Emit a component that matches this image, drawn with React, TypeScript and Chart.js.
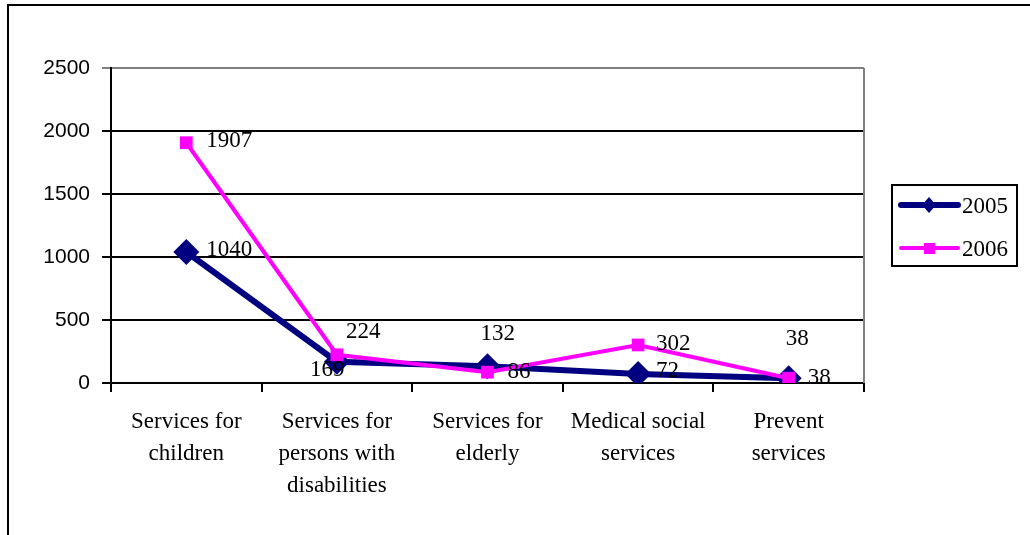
import React, { useEffect, useRef } from "react";
import { Chart, registerables } from "chart.js";

Chart.register(...registerables);

const categories: string[][] = [
  ["Services for", "children"],
  ["Services for", "persons with", "disabilities"],
  ["Services for", "elderly"],
  ["Medical social", "services"],
  ["Prevent", "services"],
];
const series2005: number[] = [1040, 169, 132, 72, 38];
const series2006: number[] = [1907, 224, 86, 302, 38];
const yTicks: number[] = [0, 500, 1000, 1500, 2000, 2500];

const NAVY = "#000080";
const MAGENTA = "#FF00FF";
const SERIF = "'Liberation Serif', 'Times New Roman', serif";
const SANS = "'Liberation Sans', Arial, sans-serif";

// label offsets (pixels, relative to each point) per dataset
const labelOffsets: Record<string, [number, number][]> = {
  "2005": [[20, -2], [-27, 8], [-7, -32], [18, -3], [-3, -39]],
  "2006": [[20, -2], [9, -23], [20, 0], [18, -1], [19, 0]],
};

const framePlugin = {
  id: "frame",
  beforeDraw(chart: any) {
    const { ctx } = chart;
    ctx.save();
    ctx.fillStyle = "#fff";
    ctx.fillRect(0, 0, chart.width, chart.height);
    ctx.strokeStyle = "#000";
    ctx.lineWidth = 2;
    ctx.beginPath();
    ctx.moveTo(8, chart.height + 5);
    ctx.lineTo(8, 5);
    ctx.lineTo(chart.width + 5, 5);
    ctx.stroke();
    ctx.restore();
  },
  beforeDatasetsDraw(chart: any) {
    const { ctx, chartArea } = chart;
    ctx.save();
    ctx.strokeStyle = "#808080";
    ctx.lineWidth = 2;
    ctx.beginPath();
    ctx.moveTo(chartArea.right, chartArea.top);
    ctx.lineTo(chartArea.right, chartArea.bottom);
    ctx.stroke();
    ctx.restore();
  },
};

const valueLabelPlugin = {
  id: "valueLabels",
  afterDatasetsDraw(chart: any) {
    const { ctx } = chart;
    ctx.save();
    ctx.font = `23px ${SERIF}`;
    ctx.fillStyle = "#000";
    ctx.textAlign = "left";
    ctx.textBaseline = "middle";
    chart.data.datasets.forEach((ds: any, di: number) => {
      const meta = chart.getDatasetMeta(di);
      const offs = labelOffsets[ds.label] || [];
      meta.data.forEach((pt: any, i: number) => {
        const [dx, dy] = offs[i] || [10, 0];
        ctx.fillText(String(ds.data[i]), pt.x + dx, pt.y + dy);
      });
    });
    ctx.restore();
  },
};

const legendPlugin = {
  id: "customLegend",
  afterDraw(chart: any) {
    const { ctx } = chart;
    const bx = 892, by = 185, bw = 125, bh = 81;
    ctx.save();
    ctx.fillStyle = "#fff";
    ctx.fillRect(bx, by, bw, bh);
    ctx.strokeStyle = "#000";
    ctx.lineWidth = 2;
    ctx.strokeRect(bx, by, bw, bh);
    const rows = [205, 248];
    const ordered = [...chart.data.datasets].sort((a: any, b: any) =>
      String(a.label).localeCompare(String(b.label))
    );
    ordered.forEach((ds: any, i: number) => {
      const y = rows[i];
      ctx.strokeStyle = ds.borderColor;
      ctx.lineWidth = ds.borderWidth;
      ctx.lineCap = "round";
      ctx.beginPath();
      ctx.moveTo(901, y);
      ctx.lineTo(958, y);
      ctx.stroke();
      ctx.fillStyle = ds.pointBackgroundColor;
      const cx = 929;
      if (ds.pointStyle === "rectRot") {
        ctx.beginPath();
        ctx.moveTo(cx, y - 8);
        ctx.lineTo(cx + 7, y);
        ctx.lineTo(cx, y + 8);
        ctx.lineTo(cx - 7, y);
        ctx.closePath();
        ctx.fill();
      } else {
        ctx.fillRect(cx - 5, y - 5, 11, 11);
      }
      ctx.fillStyle = "#000";
      ctx.font = `23px ${SERIF}`;
      ctx.textAlign = "left";
      ctx.textBaseline = "middle";
      ctx.fillText(ds.label, 962, y + 2);
    });
    ctx.restore();
  },
};

export default function App() {
  const ref = useRef<HTMLCanvasElement>(null);
  useEffect(() => {
    if (!ref.current) return;
    const chart = new Chart(ref.current, {
      type: "line",
      data: {
        labels: categories as any,
        datasets: [
          {
            label: "2005",
            data: series2005,
            borderColor: NAVY,
            backgroundColor: NAVY,
            pointBackgroundColor: NAVY,
            pointBorderColor: NAVY,
            borderWidth: 6,
            pointStyle: "rectRot",
            pointRadius: 13,
            pointBorderWidth: 0,
            tension: 0,
            order: 1,
          } as any,
          {
            label: "2006",
            data: series2006,
            borderColor: MAGENTA,
            backgroundColor: MAGENTA,
            pointBackgroundColor: MAGENTA,
            pointBorderColor: MAGENTA,
            borderWidth: 4,
            pointStyle: "rect",
            pointRadius: 9,
            pointBorderWidth: 0,
            tension: 0,
            order: 0,
          } as any,
        ],
      },
      options: {
        animation: false,
        responsive: false,
        devicePixelRatio: 1,
        layout: { padding: { left: 0, top: 68, right: 166, bottom: 0 } },
        plugins: {
          legend: { display: false },
          tooltip: { enabled: false },
        },
        scales: {
          x: {
            type: "category",
            offset: true,
            afterFit: (s: any) => {
              s.height = 152;
            },
            grid: {
              offset: true,
              drawOnChartArea: false,
              drawTicks: true,
              tickLength: 9,
              color: "#000",
              lineWidth: 2,
            },
            border: { color: "#000", width: 2 },
            ticks: {
              color: "#000",
              font: { family: SERIF, size: 23, lineHeight: "32px" } as any,
              padding: 14,
              maxRotation: 0,
              autoSkip: false,
            },
          },
          y: {
            min: yTicks[0],
            max: yTicks[yTicks.length - 1],
            afterFit: (s: any) => {
              s.width = 111;
            },
            afterBuildTicks: (s: any) => {
              s.ticks = yTicks.map((v) => ({ value: v }));
            },
            grid: {
              color: (c: any) => (c.tick && c.tick.value === 2500 ? "#808080" : "#000"),
              lineWidth: 2,
              tickLength: 9,
              drawTicks: true,
            },
            border: { color: "#000", width: 2 },
            ticks: {
              color: "#000",
              font: { family: SANS, size: 21 },
              padding: 12,
              callback: (v: any) => String(v),
            },
          },
        },
      },
      plugins: [framePlugin, valueLabelPlugin, legendPlugin],
    });
    return () => chart.destroy();
  }, []);
  return (
    <canvas
      ref={ref}
      width={1030}
      height={535}
      style={{ position: "absolute", left: 0, top: 0, width: 1030, height: 535 }}
    />
  );
}
